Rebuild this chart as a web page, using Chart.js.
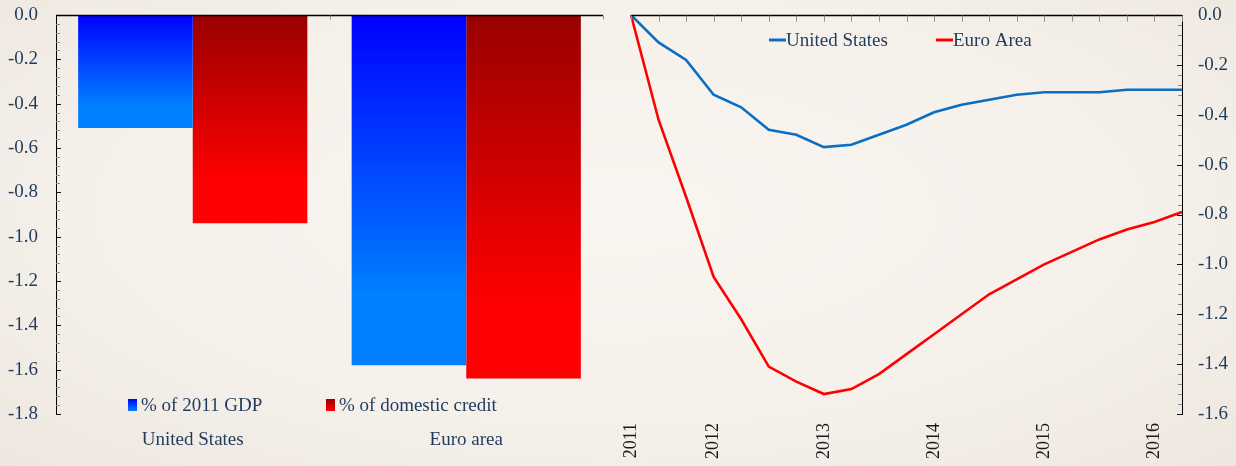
<!DOCTYPE html>
<html>
<head>
<meta charset="utf-8">
<title>Credit effect: United States vs Euro area</title>
<script src="https://cdn.jsdelivr.net/npm/chart.js@4.4.1/dist/chart.umd.min.js"></script>
<style>
  html, body { margin: 0; padding: 0; }
  body {
    width: 1236px; height: 466px; overflow: hidden; position: relative;
    background: radial-gradient(ellipse at 50% 45%, #f9f5f0 0%, #f5f0ea 60%, #ede7df 100%);
  }
  #barBox  { position: absolute; left: 0;     top: 0; width: 618px; height: 466px; }
  #lineBox { position: absolute; left: 618px; top: 0; width: 618px; height: 466px; }
</style>
</head>
<body>
<div id="barBox"><canvas id="bars" width="618" height="466"></canvas></div>
<div id="lineBox"><canvas id="lines" width="618" height="466"></canvas></div>
<script>
// ---- data -------------------------------------------------------------
const barCategories = ['United States', 'Euro area'];
const barSeriesNames = ['% of 2011 GDP', '% of domestic credit'];
const gdpShare = [-0.51, -1.58];
const creditShare = [-0.94, -1.64];

const quarterLabels = ['2011', '', '', '2012', '', '', '', '2013', '', '', '', '2014', '', '', '', '2015', '', '', '', '2016', ''];
const lineSeriesNames = ['United States', 'Euro Area'];
const usPath   = [0, -0.11, -0.18, -0.32, -0.37, -0.46, -0.48, -0.53, -0.52, -0.48, -0.44, -0.39, -0.36, -0.34, -0.32, -0.31, -0.31, -0.31, -0.30, -0.30, -0.30];
const euroPath = [0, -0.42, -0.73, -1.05, -1.22, -1.41, -1.47, -1.52, -1.50, -1.44, -1.36, -1.28, -1.20, -1.12, -1.06, -1.00, -0.95, -0.90, -0.86, -0.83, -0.79];

// ---- styling ----------------------------------------------------------
const SERIF = "'Liberation Serif', 'Times New Roman', serif";
const INK = '#1f3b5c';
const blueShade = ['#0000ff', '#0080ff'];
const redShade = ['#990000', '#ff0000'];

Chart.defaults.font.family = SERIF;
Chart.defaults.color = INK;

// label every 0.2, minor marks every 0.04
const isMajor = v => Math.abs(Math.round(v * 100)) % 20 === 0;
const tickText = v => isMajor(v) ? (Math.abs(v) < 1e-9 ? '0.0' : v.toFixed(1)) : '';

// vertical gradient running over the height of each bar
function barGradient(shade) {
  return (c) => {
    const chart = c.chart;
    const ys = chart.scales && chart.scales.y;
    if (!ys || c.raw === undefined) return shade[1];
    const y0 = ys.getPixelForValue(0);
    const y1 = ys.getPixelForValue(c.raw);
    if (!isFinite(y0) || !isFinite(y1) || y0 === y1) return shade[1];
    const g = chart.ctx.createLinearGradient(0, y0, 0, y1);
    g.addColorStop(0, shade[0]);
    g.addColorStop(0.8, shade[1]);
    g.addColorStop(1, shade[1]);
    return g;
  };
}

// axis rules with tick marks pointing into the plot
const axisMarks = {
  id: 'axisMarks',
  afterDraw(chart, args, opts) {
    const { ctx, chartArea: a } = chart;
    const ys = chart.scales.y;
    ctx.save();
    // y tick marks
    const onLeft = opts.ySide === 'left';
    const x0 = onLeft ? a.left : a.right;
    const dir = onLeft ? 1 : -1;
    ys.ticks.forEach((t, i) => {
      const py = Math.round(ys.getPixelForTick(i)) + 0.5;
      const major = isMajor(t.value);
      ctx.strokeStyle = major ? '#111' : '#8c8c8c';
      ctx.lineWidth = 1;
      ctx.beginPath();
      ctx.moveTo(x0, py);
      ctx.lineTo(x0 + dir * (major ? opts.yTickLen + 1 : opts.yTickLen), py);
      ctx.stroke();
    });
    // top rule along zero
    const top = Math.round(ys.getPixelForValue(0)) + 0.5;
    ctx.strokeStyle = '#000';
    ctx.lineWidth = 1.4;
    ctx.beginPath();
    ctx.moveTo(a.left, top);
    ctx.lineTo(a.right, top);
    ctx.stroke();
    // tick marks hanging from the top rule
    const xs = opts.topTicks(chart);
    ctx.strokeStyle = '#8c8c8c';
    ctx.lineWidth = 1;
    xs.forEach(px => {
      const x = Math.round(px) + 0.5;
      ctx.beginPath();
      ctx.moveTo(x, top);
      ctx.lineTo(x, top + opts.topTickLen);
      ctx.stroke();
    });
    ctx.restore();
  }
};

// legend drawn inside the plot area
const inlineLegend = {
  id: 'inlineLegend',
  afterDraw(chart, args, opts) {
    const ctx = chart.ctx;
    ctx.save();
    ctx.font = opts.font;
    ctx.fillStyle = INK;
    ctx.textBaseline = 'middle';
    ctx.textAlign = 'left';
    chart.data.datasets.forEach((ds, i) => {
      const it = opts.items[i];
      if (opts.marker === 'box') {
        const g = ctx.createLinearGradient(0, it.y - 6, 0, it.y + 6);
        g.addColorStop(0, opts.shades[i][0]);
        g.addColorStop(1, opts.shades[i][1]);
        ctx.fillStyle = g;
        ctx.fillRect(it.x, it.y - 6, 9, 12);
        ctx.fillStyle = INK;
        ctx.fillText(ds.label, it.x + 13, it.y + 1);
      } else {
        ctx.strokeStyle = ds.borderColor;
        ctx.lineWidth = 3;
        ctx.beginPath();
        ctx.moveTo(it.x, it.y);
        ctx.lineTo(it.x + 17, it.y);
        ctx.stroke();
        ctx.fillText(ds.label, it.x + 17, it.y + 1);
      }
    });
    ctx.restore();
  }
};

// ---- left panel: bars -------------------------------------------------
new Chart(document.getElementById('bars'), {
  type: 'bar',
  data: {
    labels: barCategories,
    datasets: [
      { label: barSeriesNames[0], data: gdpShare, backgroundColor: barGradient(blueShade) },
      { label: barSeriesNames[1], data: creditShare, backgroundColor: barGradient(redShade) }
    ]
  },
  options: {
    responsive: false,
    animation: false,
    layout: { padding: { left: 0, right: 15, top: 15, bottom: 0 } },
    datasets: { bar: { barPercentage: 1.0, categoryPercentage: 0.838, borderWidth: 0 } },
    plugins: {
      legend: { display: false },
      tooltip: { enabled: false },
      axisMarks: {
        ySide: 'left', yTickLen: 4, topTickLen: 4,
        topTicks: (chart) => {
          const xs = chart.scales.x;
          const p0 = xs.getPixelForValue(0), p1 = xs.getPixelForValue(1);
          const h = (p1 - p0) / 2;
          return [p0 + h, p1 + h];
        }
      },
      inlineLegend: {
        marker: 'box', font: '19px ' + SERIF, shades: [blueShade, redShade],
        items: [{ x: 128, y: 405 }, { x: 326, y: 405 }]
      }
    },
    scales: {
      x: {
        grid: { display: false },
        border: { display: false },
        ticks: { font: { size: 19 }, color: INK, padding: 7 },
        afterFit: (s) => { s.height = 52; }
      },
      y: {
        min: -1.8, max: 0,
        grid: { display: false, drawTicks: true, tickLength: 18 },
        border: { display: true, color: '#000', width: 1 },
        ticks: { stepSize: 0.04, autoSkip: false, font: { size: 19 }, color: INK, padding: 0, callback: tickText },
        afterFit: (s) => { s.width = 56; }
      }
    }
  },
  plugins: [axisMarks, inlineLegend]
});

// ---- right panel: lines -----------------------------------------------
new Chart(document.getElementById('lines'), {
  type: 'line',
  data: {
    labels: quarterLabels,
    datasets: [
      { label: lineSeriesNames[0], data: usPath, borderColor: '#0a6fc2', borderWidth: 2.6, pointRadius: 0, tension: 0, fill: false },
      { label: lineSeriesNames[1], data: euroPath, borderColor: '#ff0000', borderWidth: 2.6, pointRadius: 0, tension: 0, fill: false }
    ]
  },
  options: {
    responsive: false,
    animation: false,
    layout: { padding: { left: 13, right: 0, top: 15, bottom: 0 } },
    plugins: {
      legend: { display: false },
      tooltip: { enabled: false },
      axisMarks: {
        ySide: 'right', yTickLen: 4, topTickLen: 6,
        topTicks: (chart) => {
          const xs = chart.scales.x;
          return xs.ticks.map((t, i) => xs.getPixelForTick(i));
        }
      },
      inlineLegend: {
        marker: 'line', font: '19px ' + SERIF,
        items: [{ x: 151, y: 40 }, { x: 318, y: 40 }]
      }
    },
    scales: {
      x: {
        offset: false,
        grid: { display: false, drawTicks: false },
        border: { display: false },
        ticks: { autoSkip: false, maxRotation: 90, minRotation: 90, font: { size: 18 }, color: '#1a1a1a', padding: 9 },
        afterFit: (s) => { s.height = 52; }
      },
      y: {
        position: 'right',
        min: -1.6, max: 0,
        grid: { display: false, drawTicks: true, tickLength: 16 },
        border: { display: true, color: '#000', width: 1 },
        ticks: { stepSize: 0.04, autoSkip: false, font: { size: 19 }, color: INK, padding: 0, callback: tickText },
        afterFit: (s) => { s.width = 54; }
      }
    }
  },
  plugins: [axisMarks, inlineLegend]
});
</script>
</body>
</html>
